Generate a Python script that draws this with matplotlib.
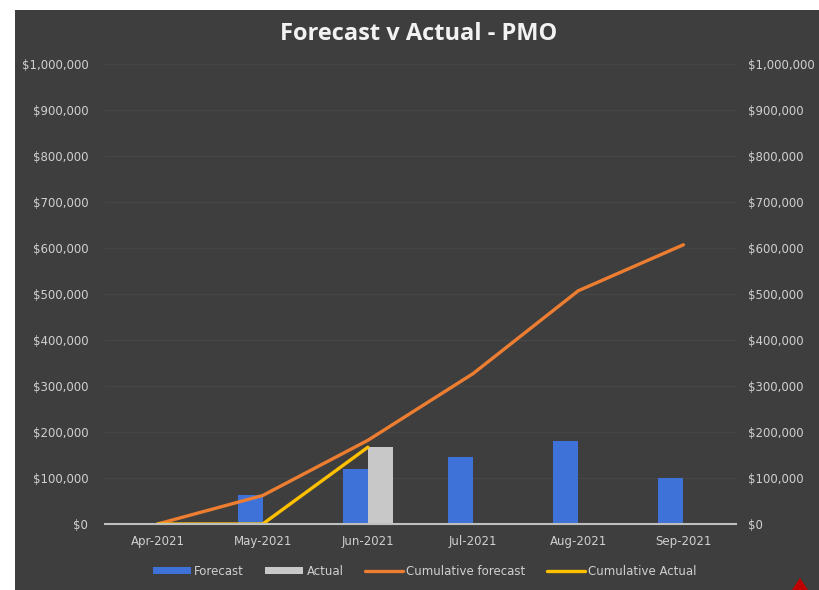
import matplotlib
matplotlib.use("Agg")
import matplotlib.pyplot as plt
import numpy as np
from matplotlib.patches import Rectangle, Polygon
from matplotlib.ticker import FuncFormatter, MultipleLocator

# monthly forecast vs actual spend
months = ["Apr-2021", "May-2021", "Jun-2021", "Jul-2021", "Aug-2021", "Sep-2021"]
forecast = [0, 62000, 120000, 145000, 180000, 100000]
actual = [0, 0, 167000, 0, 0, 0]
cum_forecast = [0, 62000, 182000, 327000, 507000, 607000]
cum_actual = [0, 0, 167000]

bg = "#3e3e3e"
text_col = "#d0d0d0"

fig = plt.figure(figsize=(8.2, 5.9), dpi=100)
fig.patch.set_facecolor("white")
# dark chart panel
fig.patches.append(Rectangle((15 / 820, 0), 1 - 15 / 820, 580 / 590,
                             transform=fig.transFigure, facecolor=bg,
                             edgecolor="none", zorder=-10))

ax = fig.add_axes([105 / 820, 66 / 590, 631 / 820, 460 / 590])
ax.set_facecolor("none")

x = np.arange(len(months))
w = 0.24
b1 = ax.bar(x - w / 2, forecast, width=w, color="#3f72d8", label="Forecast", zorder=3)
b2 = ax.bar(x + w / 2, actual, width=w, color="#c8c8c8", label="Actual", zorder=3)
l1, = ax.plot(x, cum_forecast, color="#ed7d31", lw=2.4, label="Cumulative forecast",
              zorder=4, solid_capstyle="round")
l2, = ax.plot(x[:len(cum_actual)], cum_actual, color="#ffc000", lw=2.4,
              label="Cumulative Actual", zorder=4, solid_capstyle="round")

ax.set_xlim(-0.5, len(months) - 0.5)
ax.set_ylim(0, 1000000)
ax.yaxis.set_major_locator(MultipleLocator(100000))
money = FuncFormatter(lambda v, p: "${:,.0f}".format(v))
ax.yaxis.set_major_formatter(money)
ax.set_xticks(x)
ax.set_xticklabels(months)
ax.grid(axis="y", color="#454545", lw=1, zorder=0)
ax.tick_params(length=0, colors=text_col, labelsize=8.5)
ax.tick_params(axis="x", pad=8)
ax.tick_params(axis="y", pad=12)
for s in ["top", "right", "left"]:
    ax.spines[s].set_visible(False)
ax.spines["bottom"].set_color("#bfbfbf")
ax.spines["bottom"].set_linewidth(1.5)
ax.spines["bottom"].set_zorder(5)

# secondary axis with the same scale
ax2 = ax.twinx()
ax2.set_ylim(ax.get_ylim())
ax2.yaxis.set_major_locator(MultipleLocator(100000))
ax2.yaxis.set_major_formatter(money)
ax2.tick_params(length=0, colors=text_col, labelsize=8.5, pad=9)
for s in ax2.spines.values():
    s.set_visible(False)

fig.text(0.511, 0.942, "Forecast v Actual - PMO", ha="center", va="center",
         fontsize=17, fontweight="bold", color="#f2f2f2", family="Open Sans")

leg = fig.legend([b1, b2, l1, l2],
                 ["Forecast", "Actual", "Cumulative forecast", "Cumulative Actual"],
                 loc="center", bbox_to_anchor=(0.518, 0.032),
                 ncol=4, frameon=False, fontsize=8.5, labelcolor=text_col,
                 handlelength=3.2, handleheight=0.5, columnspacing=1.8,
                 handletextpad=0.3)

# small red marker in the lower right corner
fig.patches.append(Polygon([[792 / 820, 0], [808 / 820, 0], [800 / 820, 12 / 590]],
                           closed=True, transform=fig.transFigure,
                           facecolor="#c00000", edgecolor="none", zorder=5))

fig.savefig("out.png", dpi=100, facecolor=fig.get_facecolor())
